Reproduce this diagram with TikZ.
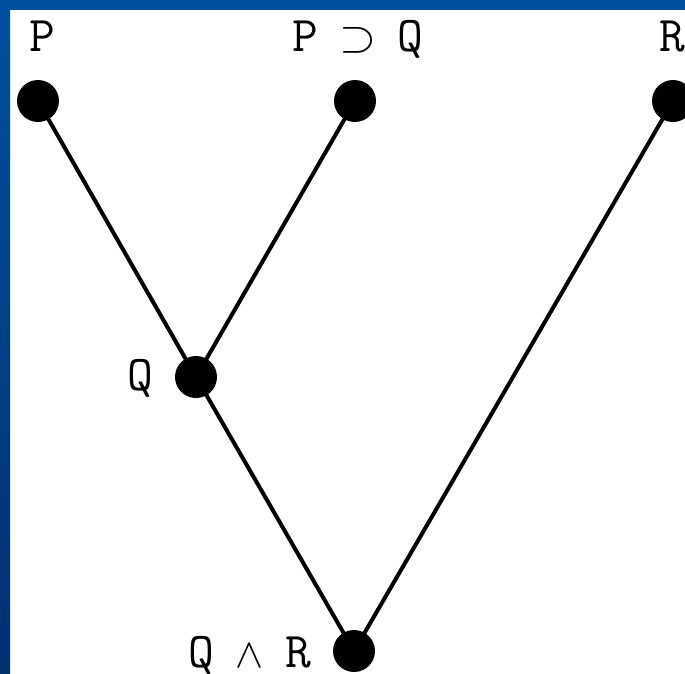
\documentclass[tikz,border=0pt]{standalone}
\usepackage{graphicx}
\definecolor{blueTop}{RGB}{0,80,160}
\definecolor{blueBot}{RGB}{0,48,112}
\newcommand{\symbox}[4]{\makebox[#1]{\resizebox{#2}{#3}{$#4$}}}
\begin{document}
\begin{tikzpicture}[x=1pt,y=-1pt,
  dot/.style={circle,fill=black,minimum size=42pt,inner sep=0pt},
  edge/.style={line width=4pt},
  lbl/.style={font=\ttfamily\fontsize{50}{50}\selectfont,inner sep=0pt,anchor=base}]
\useasboundingbox (0,0) rectangle (685,673);
\fill[white] (0,0) rectangle (685,673);
\shade[top color=blueTop,bottom color=blueBot] (0,0) rectangle (10,673);
\fill[blueTop] (0,0) rectangle (685,10);
\node[dot] (p) at (38,101) {};
\node[dot] (pq) at (355,101) {};
\node[dot] (r) at (673,101) {};
\node[dot] (q) at (196,377) {};
\node[dot] (qr) at (354,651) {};
\draw[edge] (p.center) -- (q.center);
\draw[edge] (pq.center) -- (q.center);
\draw[edge] (q.center) -- (qr.center);
\draw[edge] (r.center) -- (qr.center);
\node[lbl] (lp) at (42,51) {P};
\node[lbl] (lpq) at (357.5,51) {P\symbox{79pt}{37pt}{24pt}{\supset}Q};
\node[lbl] (lr) at (672,51) {R};
\node[lbl] (lq) at (140,390) {Q};
\node[lbl] (lqr) at (249.5,667) {Q\symbox{71pt}{28pt}{23pt}{\wedge}R};
\end{tikzpicture}
\end{document}
